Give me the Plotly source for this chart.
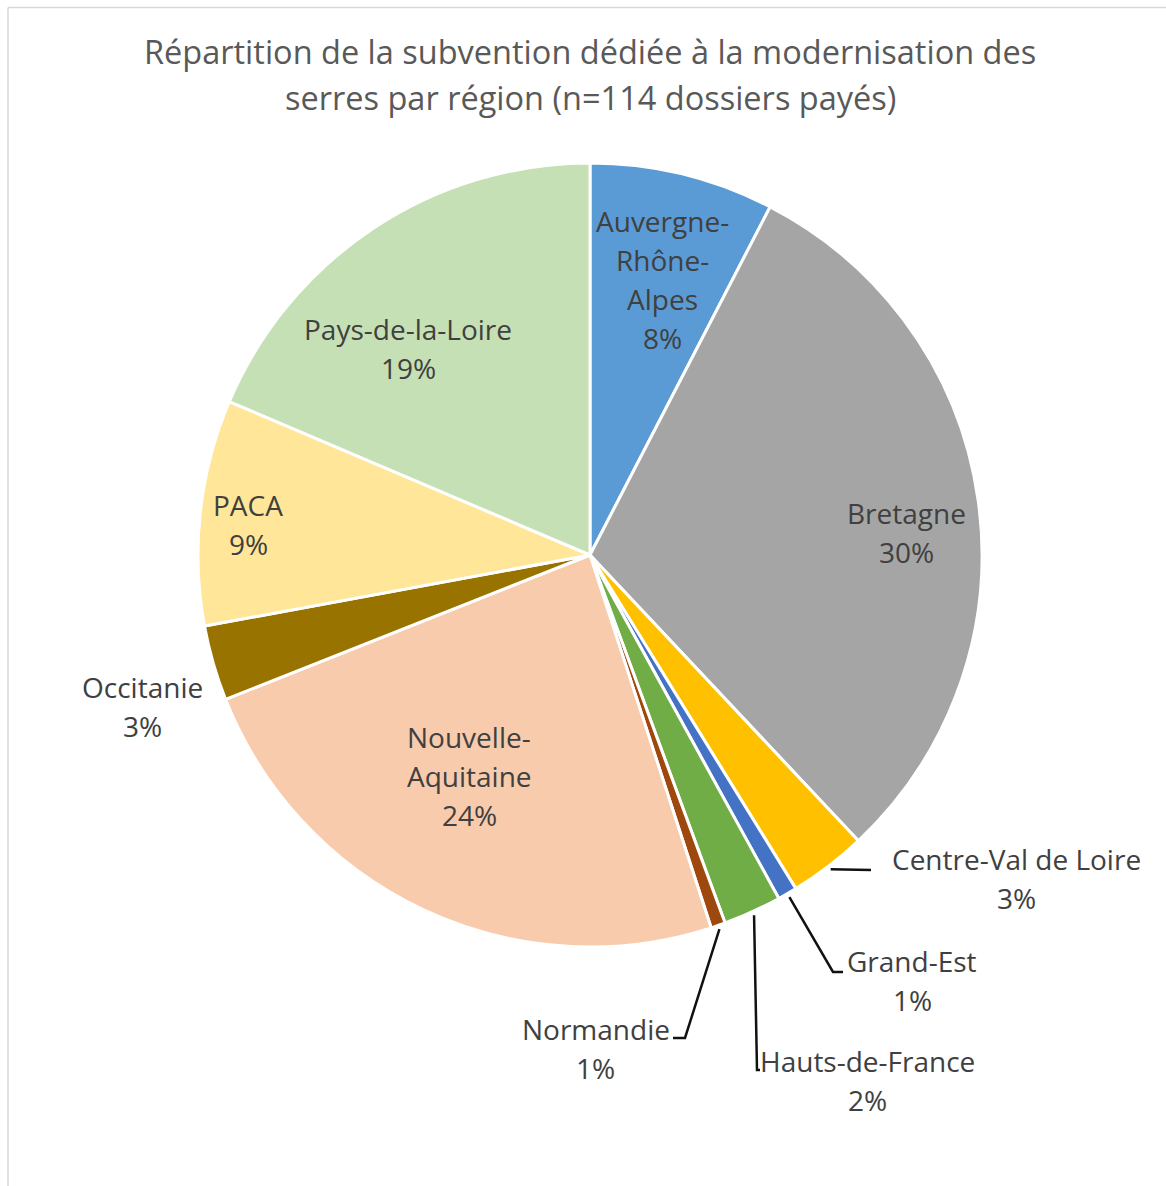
import math
import plotly.graph_objects as go

# Subsidy share by region (%), clockwise from 12 o'clock
regions = [
    "Auvergne-Rhône-Alpes", "Bretagne", "Centre-Val de Loire", "Grand-Est",
    "Hauts-de-France", "Normandie", "Nouvelle-Aquitaine", "Occitanie",
    "PACA", "Pays-de-la-Loire",
]
shares = [7.6, 30.4, 3.2, 0.8, 2.4, 0.6, 24.0, 3.1, 9.3, 18.6]
colors = [
    "#5B9BD5", "#A5A5A5", "#FFC000", "#4472C4", "#70AD47",
    "#9E480E", "#F8CBAD", "#997300", "#FFE699", "#C5E0B4",
]
title_lines = [
    "Répartition de la subvention dédiée à la modernisation des",
    "serres par région (n=114 dossiers payés)",
]

W, H = 1166, 1186
CX, CY, R = 590, 555, 392          # pie centre and radius, px
FONT = "Open Sans, sans-serif"
LABEL_COLOR = "#404040"
LABEL_SIZE = 28
TITLE_SIZE = 32.5
LINE_GAP = 39                      # px between label lines

# How each label is split across lines, and where its block is centred (px)
label_lines = {
    "Auvergne-Rhône-Alpes": ["Auvergne-", "Rhône-", "Alpes"],
    "Nouvelle-Aquitaine": ["Nouvelle-", "Aquitaine"],
}
label_pos = {
    "Auvergne-Rhône-Alpes": (662, 279.5),
    "Bretagne": (906, 532.5),
    "Centre-Val de Loire": (1016, 878.5),
    "Grand-Est": (912, 980.5),
    "Hauts-de-France": (867, 1080.5),
    "Normandie": (595.5, 1048.5),
    "Nouvelle-Aquitaine": (469, 776),
    "Occitanie": (142, 706.5),
    "PACA": (248, 524.5),
    "Pays-de-la-Loire": (408.5, 348.5),
}
# Leader-line bend / end points (px) for the small outer slices
leader_path = {
    "Centre-Val de Loire": [(871, 870)],
    "Grand-Est": [(833, 972), (843, 972)],
    "Hauts-de-France": [(757, 1070), (760, 1070)],
    "Normandie": [(685, 1038), (673, 1038)],
}


def px(x, y):
    return x / W, 1 - y / H


fig = go.Figure(
    go.Pie(
        labels=regions,
        values=shares,
        sort=False,
        direction="clockwise",
        rotation=0,
        marker=dict(colors=colors, line=dict(color="white", width=3)),
        textinfo="none",
        hoverinfo="label+percent",
        showlegend=False,
        domain=dict(
            x=[(CX - R) / W, (CX + R) / W],
            y=[1 - (CY + R) / H, 1 - (CY - R) / H],
        ),
    )
)

annotations = []
for i, line in enumerate(title_lines):
    x, y = px(590, 51.5 + i * 46)
    annotations.append(dict(
        x=x, y=y, xref="paper", yref="paper", text=line, showarrow=False,
        xanchor="center", yanchor="middle",
        font=dict(family=FONT, size=TITLE_SIZE, color="#595959"),
    ))

total = sum(shares)
shapes = []
cum = 0.0
for name, v in zip(regions, shares):
    mid = (cum + v / 2) / total * 2 * math.pi
    cum += v
    pct = f"{round(v / total * 100)}%"
    lines = label_lines.get(name, [name]) + [pct]
    bx, by = label_pos[name]
    top = by - (len(lines) - 1) * LINE_GAP / 2
    for k, t in enumerate(lines):
        x, y = px(bx, top + k * LINE_GAP)
        annotations.append(dict(
            x=x, y=y, xref="paper", yref="paper", text=t, showarrow=False,
            xanchor="center", yanchor="middle",
            font=dict(family=FONT, size=LABEL_SIZE, color=LABEL_COLOR),
        ))
    if name in leader_path:
        sx = CX + 1.01 * R * math.sin(mid)
        sy = CY - 1.01 * R * math.cos(mid)
        pts = [(sx, sy)] + leader_path[name]
        d = "M " + " L ".join(f"{px(a, b)[0]:.5f},{px(a, b)[1]:.5f}" for a, b in pts)
        shapes.append(dict(type="path", xref="paper", yref="paper", path=d,
                           line=dict(color="#111111", width=2.5)))

# Chart-area frame: top and left edges
shapes.append(dict(type="line", xref="paper", yref="paper",
                   x0=px(8, 7.5)[0], y0=px(8, 7.5)[1], x1=1, y1=px(8, 7.5)[1],
                   line=dict(color="#D9D9D9", width=1.5)))
shapes.append(dict(type="line", xref="paper", yref="paper",
                   x0=px(8, 7.5)[0], y0=px(8, 7.5)[1], x1=px(8, 7.5)[0], y1=0,
                   line=dict(color="#D9D9D9", width=1.5)))

fig.update_layout(
    width=W, height=H,
    margin=dict(l=0, r=0, t=0, b=0),
    paper_bgcolor="white",
    plot_bgcolor="white",
    annotations=annotations,
    shapes=shapes,
)

fig.write_html("out.html")
